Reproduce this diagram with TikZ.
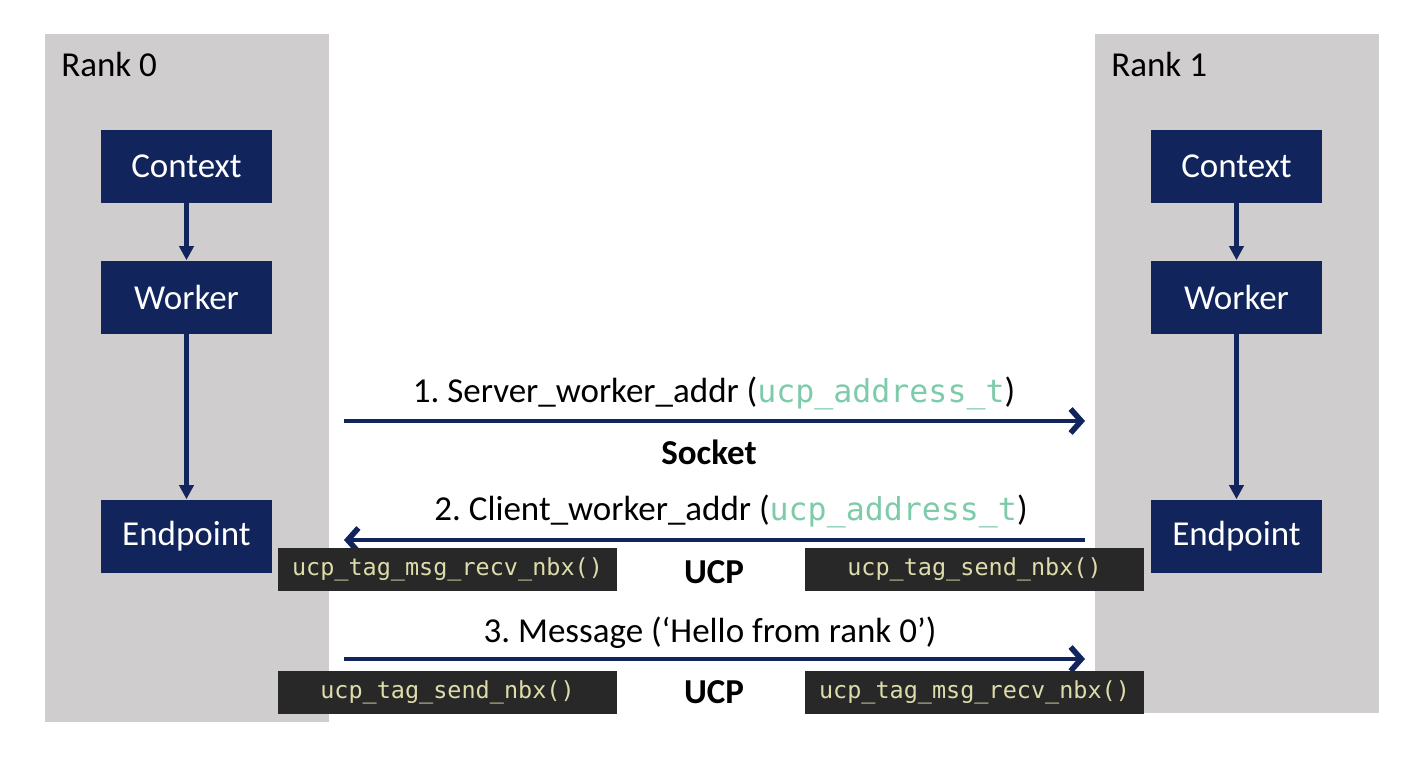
\documentclass[tikz,border=0pt]{standalone}
\usepackage{fontspec}
\setmainfont{Carlito}
\setmonofont{DejaVu Sans Mono}
\usetikzlibrary{arrows.meta}
\definecolor{navy}{RGB}{17,36,92}
\definecolor{panelgrey}{RGB}{207,205,206}
\definecolor{codebg}{RGB}{40,40,40}
\definecolor{codefg}{RGB}{222,220,170}
\definecolor{typeg}{RGB}{126,203,170}
\newcommand{\bigtxt}{\fontsize{26.25}{30}\selectfont}
\newcommand{\codetxt}{\fontsize{17.6}{20}\selectfont\ttfamily}
\newcommand{\typetxt}[1]{{\fontsize{23.7}{28}\selectfont\ttfamily\color{typeg}#1}}
\frenchspacing
\begin{document}
\begin{tikzpicture}[x=0.75pt,y=-0.75pt,
  panelbox/.style={fill=panelgrey,draw=none,inner sep=0pt,minimum width=213pt},
  rankbox/.style={fill=navy,text=white,inner sep=0pt,minimum width=128.25pt,minimum height=54.75pt,font=\bigtxt},
  codebox/.style={fill=codebg,text=codefg,inner sep=0pt,minimum width=254.25pt,minimum height=32.25pt,font=\codetxt},
  lbl/.style={anchor=base,inner sep=0pt,font=\bigtxt},
  blbl/.style={anchor=base,inner sep=0pt,font=\bigtxt\bfseries},
  varrow/.style={draw=navy,line width=3.4pt,-{Triangle[length=10.5pt,width=10.5pt]}},
  harrow/.style={draw=navy,line width=2.8pt,-{Straight Barb[length=8pt,width=18pt,line width=4.2pt]}}]
\useasboundingbox (0,0) rectangle (1420,768);
% panels
\node[panelbox,minimum height=516pt] (rank0) at (187,378) {};
\node[panelbox,minimum height=509.25pt] (rank1) at (1237,373.5) {};
\node[lbl,anchor=base west] (r0lbl) at (61,76) {Rank 0};
\node[lbl,anchor=base west] (r1lbl) at (1111,76) {Rank 1};
% rank 0 boxes
\node[rankbox] (ctx0) at (186.5,166.5) {Context};
\node[rankbox] (wrk0) at (186.5,297) {Worker};
\node[rankbox] (ep0) at (186.5,536) {Endpoint};
% rank 1 boxes
\node[rankbox] (ctx1) at (1236.5,166.5) {Context};
\node[rankbox] (wrk1) at (1236.5,297) {Worker};
\node[rankbox] (ep1) at (1236.5,536) {Endpoint};
\draw[varrow] (ctx0) -- (wrk0);
\draw[varrow] (wrk0) -- (ep0);
\draw[varrow] (ctx1) -- (wrk1);
\draw[varrow] (wrk1) -- (ep1);
% horizontal arrows
\coordinate (a1s) at (344,421);
\coordinate (a1e) at (1085,421);
\coordinate (a2s) at (1085,540);
\coordinate (a2e) at (344,540);
\coordinate (a3s) at (344,659);
\coordinate (a3e) at (1085,659);
\draw[harrow] (a1s) -- (a1e);
\draw[harrow] (a2s) -- (a2e);
\draw[harrow] (a3s) -- (a3e);
% labels
\node[lbl] (l1) at (714,402) {1. Server\_worker\_addr (\typetxt{ucp\_address\_t})};
\node[blbl] (sock) at (709,464) {Socket};
\node[lbl] (l2) at (731,520) {2. Client\_worker\_addr (\typetxt{ucp\_address\_t})};
\node[blbl] (ucp1) at (714,583) {UCP};
\node[lbl] (l3) at (710,642) {3. Message (‘Hello from rank 0’)};
\node[blbl] (ucp2) at (714,703) {UCP};
% code boxes
\node[codebox] (c1) at (447.5,569.5) {ucp\_tag\_msg\_recv\_nbx()};
\node[codebox] (c2) at (974.5,569.5) {ucp\_tag\_send\_nbx()};
\node[codebox] (c3) at (447.5,692.5) {ucp\_tag\_send\_nbx()};
\node[codebox] (c4) at (974.5,692.5) {ucp\_tag\_msg\_recv\_nbx()};
\end{tikzpicture}
\end{document}
